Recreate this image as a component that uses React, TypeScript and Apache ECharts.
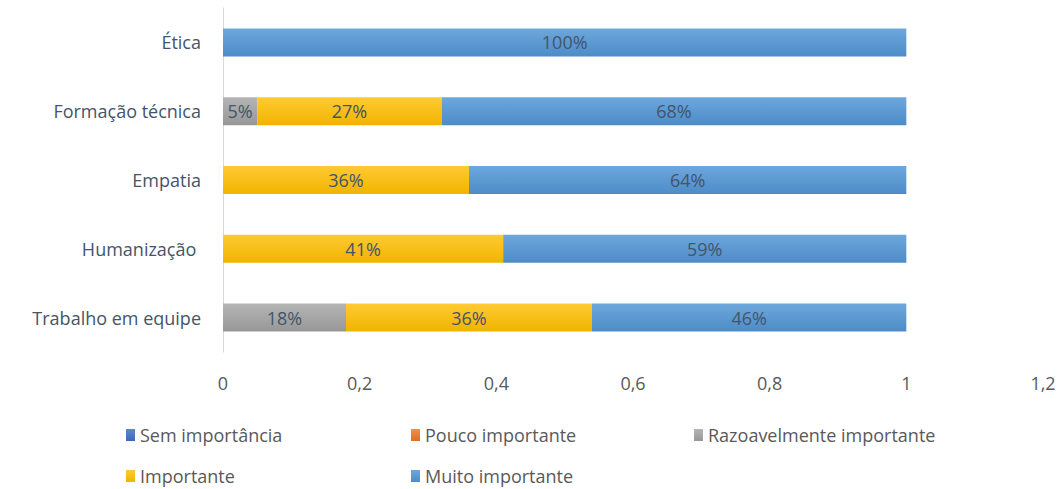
import React, { useEffect, useRef } from "react";
import * as echarts from "echarts";

const categories = ["Ética", "Formação técnica", "Empatia", "Humanização ", "Trabalho em equipe"];
const seriesNames = ["Sem importância", "Pouco importante", "Razoavelmente importante", "Importante", "Muito importante"];
const semImportancia = [0, 0, 0, 0, 0];
const poucoImportante = [0, 0, 0, 0, 0];
const razoavelmente = [0, 0.05, 0, 0, 0.18];
const importante = [0, 0.27, 0.36, 0.41, 0.36];
const muitoImportante = [1, 0.68, 0.64, 0.59, 0.46];
const xTicks = [0, 0.2, 0.4, 0.6, 0.8, 1, 1.2];

const colors = ["#4472C4", "#ED7D31", "#A5A5A5", "#FFC000", "#5B9BD5"];
const gradTop = ["#5B86D0", "#F08F4D", "#B5B5B5", "#FFCA33", "#6DA7DC"];
const gradBot = ["#3E68B5", "#DB6F26", "#979797", "#F0B400", "#4D8CC8"];
const FONT = "'Open Sans', Lato, sans-serif";
const TXT = "#44546A";

export default function App() {
  const ref = useRef<HTMLDivElement>(null);
  useEffect(() => {
    const chart = echarts.init(ref.current!, null, { renderer: "svg" });
    const dataSets = [semImportancia, poucoImportante, razoavelmente, importante, muitoImportante];
    const legendPos = [
      { left: 126, top: 426 },
      { left: 411, top: 426 },
      { left: 694, top: 426 },
      { left: 126, top: 467 },
      { left: 411, top: 467 },
    ];
    chart.setOption({
      animation: false,
      color: colors,
      grid: { left: 223, right: 20, top: 8, bottom: 137, containLabel: false },
      legend: seriesNames.map((n, i) => ({
        data: [n],
        left: legendPos[i].left,
        top: legendPos[i].top,
        padding: 0,
        itemWidth: 9,
        itemHeight: 12,
        icon: "rect",
        textStyle: { fontFamily: FONT, fontSize: 18, color: "#595959" },
      })),
      xAxis: {
        type: "value",
        min: 0,
        max: 1.2,
        interval: 0.2,
        axisLine: { show: false },
        axisTick: { show: false },
        splitLine: { show: false },
        axisLabel: {
          margin: 22,
          fontFamily: FONT,
          fontSize: 18,
          color: "#595959",
          formatter: (v: number) => {
            const t = xTicks.find((x) => Math.abs(x - v) < 1e-6);
            return String(t !== undefined ? t : v).replace(".", ",");
          },
        },
      },
      yAxis: {
        type: "category",
        data: categories,
        inverse: true,
        axisLine: { show: true, lineStyle: { color: "#D9D9D9", width: 1 } },
        axisTick: { show: false },
        axisLabel: { margin: 22, fontFamily: FONT, fontSize: 18, color: TXT },
      },
      series: seriesNames.map((n, i) => ({
        name: n,
        type: "bar",
        stack: "total",
        barWidth: 28,
        data: dataSets[i],
        itemStyle: {
          color: new echarts.graphic.LinearGradient(0, 0, 0, 1, [
            { offset: 0, color: gradTop[i] },
            { offset: 1, color: gradBot[i] },
          ]),
        },
        label: {
          show: true,
          position: "inside",
          fontFamily: FONT,
          fontSize: 18,
          color: TXT,
          formatter: (p: any) => (p.value > 0 ? Math.round(p.value * 100) + "%" : ""),
        },
      })),
    });
    return () => chart.dispose();
  }, []);
  return (
    <div
      ref={ref}
      style={{ position: "fixed", left: 0, top: 0, width: 1063, height: 489, background: "#fff" }}
    />
  );
}
